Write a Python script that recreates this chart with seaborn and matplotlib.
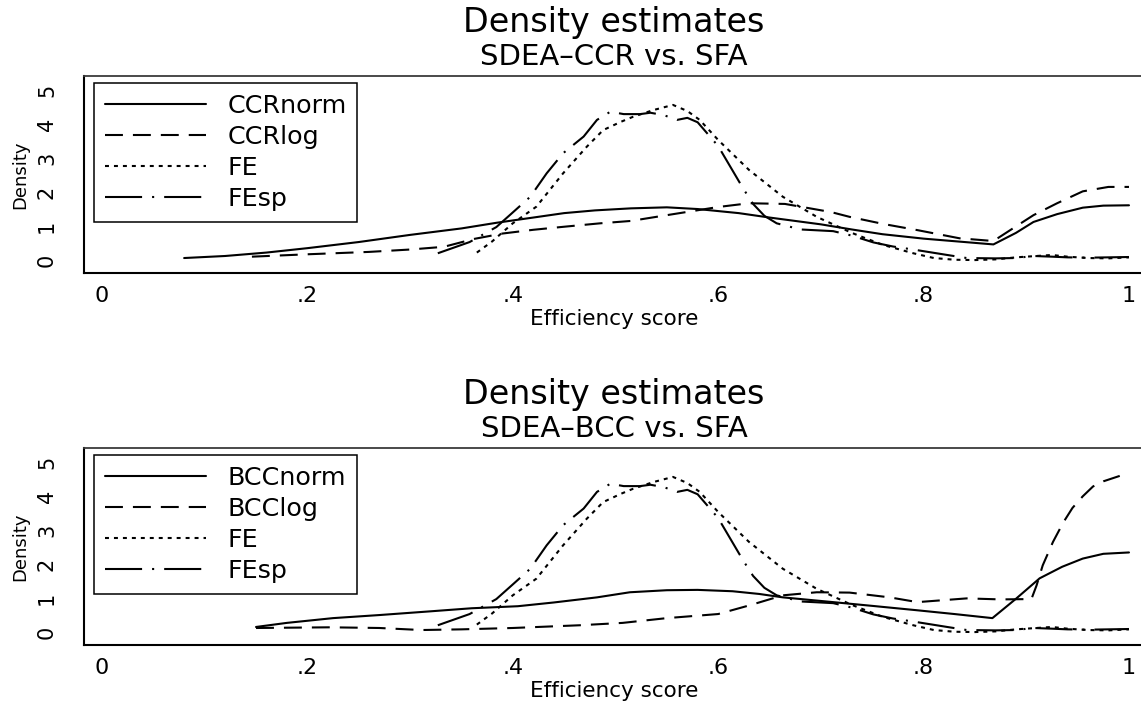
import matplotlib
matplotlib.use("Agg")
import matplotlib.pyplot as plt
import seaborn as sns

# ---- kernel density estimates of efficiency scores (read at selected scores) ----
# SDEA-CCR, normal noise
ccrnorm_x = [0.08, 0.12, 0.16, 0.20, 0.25, 0.30, 0.35, 0.385, 0.42, 0.45, 0.48, 0.515, 0.55, 0.58,
             0.62, 0.65, 0.70, 0.73, 0.76, 0.80, 0.84, 0.868, 0.89, 0.907, 0.93, 0.955, 0.975, 1.0]
ccrnorm_y = [0.06, 0.12, 0.22, 0.35, 0.53, 0.74, 0.93, 1.10, 1.25, 1.38, 1.46, 1.52, 1.55, 1.50,
             1.38, 1.25, 1.05, 0.90, 0.76, 0.63, 0.53, 0.46, 0.80, 1.12, 1.35, 1.54, 1.60, 1.61]

# SDEA-CCR, logistic noise
ccrlog_x = [0.146, 0.20, 0.26, 0.30, 0.333, 0.362, 0.39, 0.42, 0.45, 0.485, 0.515, 0.55, 0.60, 0.63,
            0.665, 0.71, 0.728, 0.761, 0.794, 0.835, 0.868, 0.89, 0.907, 0.93, 0.955, 0.98, 1.0]
ccrlog_y = [0.10, 0.17, 0.24, 0.31, 0.39, 0.62, 0.78, 0.89, 0.98, 1.08, 1.15, 1.32, 1.56, 1.67,
            1.65, 1.41, 1.27, 1.06, 0.88, 0.64, 0.56, 0.99, 1.32, 1.67, 2.02, 2.15, 2.15]

# SFA fixed effects
fe_x = [0.365, 0.38, 0.40, 0.423, 0.449, 0.472, 0.488, 0.505, 0.517, 0.537, 0.556, 0.57, 0.582,
        0.60, 0.63, 0.663, 0.696, 0.73, 0.76, 0.79, 0.81, 0.83, 0.85, 0.87, 0.89, 0.91, 0.925,
        0.94, 0.96, 0.98, 1.0]
fe_y = [0.22, 0.55, 1.08, 1.57, 2.55, 3.33, 3.82, 4.06, 4.21, 4.41, 4.56, 4.38, 4.12,
        3.53, 2.65, 1.86, 1.27, 0.80, 0.45, 0.20, 0.06, 0.01, 0.0, 0.02, 0.08, 0.12, 0.15,
        0.10, 0.06, 0.05, 0.08]

# SFA fixed effects, spatial
fesp_x = [0.327, 0.358, 0.384, 0.40, 0.417, 0.433, 0.449, 0.469, 0.482, 0.495, 0.508, 0.524,
          0.534, 0.547, 0.56, 0.57, 0.58, 0.60, 0.624, 0.634, 0.645, 0.657, 0.68, 0.712, 0.73,
          0.751, 0.77, 0.794, 0.823, 0.842, 0.87, 0.89, 0.907, 0.925, 0.94, 0.96, 0.98, 1.0]
fesp_y = [0.20, 0.53, 0.97, 1.40, 1.86, 2.55, 3.14, 3.63, 4.12, 4.36, 4.29, 4.29,
          4.33, 4.26, 4.12, 4.18, 4.05, 3.35, 2.12, 1.65, 1.30, 1.08, 0.90, 0.85, 0.72,
          0.52, 0.40, 0.29, 0.15, 0.06, 0.05, 0.06, 0.12, 0.10, 0.08, 0.07, 0.08, 0.09]

# SDEA-BCC, normal noise
bccnorm_x = [0.15, 0.18, 0.225, 0.27, 0.32, 0.36, 0.405, 0.44, 0.482, 0.514, 0.55, 0.58, 0.614,
             0.64, 0.663, 0.712, 0.75, 0.794, 0.83, 0.867, 0.89, 0.913, 0.935, 0.955, 0.975, 1.0]
bccnorm_y = [0.15, 0.27, 0.41, 0.50, 0.61, 0.70, 0.76, 0.87, 1.02, 1.17, 1.23, 1.24, 1.20,
             1.12, 1.02, 0.88, 0.77, 0.64, 0.53, 0.41, 0.98, 1.58, 1.92, 2.16, 2.30, 2.34]

# SDEA-BCC, logistic noise
bcclog_x = [0.15, 0.222, 0.27, 0.311, 0.35, 0.40, 0.465, 0.507, 0.55, 0.60, 0.631, 0.663, 0.696,
            0.728, 0.767, 0.794, 0.842, 0.875, 0.905, 0.910, 0.916, 0.926, 0.936, 0.945, 0.955,
            0.965, 0.975, 0.991]
bcclog_y = [0.12, 0.14, 0.12, 0.06, 0.08, 0.12, 0.20, 0.27, 0.41, 0.53, 0.79, 1.08, 1.17,
            1.16, 1.02, 0.88, 0.99, 0.96, 0.97, 1.37, 1.96, 2.65, 3.22, 3.65, 3.99,
            4.28, 4.43, 4.59]

x_ticks = [0, 0.2, 0.4, 0.6, 0.8, 1.0]
x_ticklabels = ["0", ".2", ".4", ".6", ".8", "1"]
y_ticks = [0, 1, 2, 3, 4, 5]

panels = [
    ("SDEA\u2013CCR vs. SFA",
     [("CCRnorm", ccrnorm_x, ccrnorm_y), ("CCRlog", ccrlog_x, ccrlog_y),
      ("FE", fe_x, fe_y), ("FEsp", fesp_x, fesp_y)]),
    ("SDEA\u2013BCC vs. SFA",
     [("BCCnorm", bccnorm_x, bccnorm_y), ("BCClog", bcclog_x, bcclog_y),
      ("FE", fe_x, fe_y), ("FEsp", fesp_x, fesp_y)]),
]

# line patterns in the order the series are listed
styles = [
    "-",
    (0, (8.6, 4.8)),
    (0, (1.9, 2.4)),
    (0, (17.8, 4.8, 1.0, 4.8)),
]

sns.set_style("white")
plt.rcParams["font.family"] = ["DejaVu Sans"]
plt.rcParams["axes.unicode_minus"] = False
plt.rcParams["text.color"] = "black"
plt.rcParams["axes.labelcolor"] = "black"
plt.rcParams["xtick.color"] = "black"
plt.rcParams["ytick.color"] = "black"

W, H = 1141, 706
fig = plt.figure(figsize=(W / 100, H / 100), dpi=100)


def fx(px):
    return px / W


def fy(py):
    return 1 - py / H


for i, (subtitle, series) in enumerate(panels):
    off = 372 * i
    ax = fig.add_axes([fx(84), fy(273 + off), 1 - fx(84), (273 - 76) / H])
    for (label, xs, ys), ls in zip(series, styles):
        sns.lineplot(x=xs, y=ys, ax=ax, color="black", linewidth=1.5,
                     linestyle=ls, label=label, estimator=None, sort=False)
    ax.set_xlim(-0.0175, 1.0117)
    ax.set_ylim(-0.38, 5.41)
    ax.set_xticks(x_ticks)
    ax.set_xticklabels(x_ticklabels)
    ax.set_yticks(y_ticks)
    ax.set_xlabel("")
    ax.set_ylabel("")
    ax.tick_params(axis="both", direction="out", length=6.5, width=1.1,
                   color="black", labelsize=16, labelcolor="black")
    ax.tick_params(axis="x", pad=3)
    ax.tick_params(axis="y", labelrotation=90, pad=13, labelsize=15)
    for lab in ax.get_yticklabels():
        lab.set_va("center")
    ax.spines["left"].set_linewidth(1.5)
    ax.spines["bottom"].set_linewidth(1.5)
    ax.spines["left"].set_color("black")
    ax.spines["bottom"].set_color("black")
    ax.spines["top"].set_linewidth(1.3)
    ax.spines["top"].set_color("#3a3a3a")
    ax.spines["right"].set_visible(False)

    leg = ax.legend(loc="upper left", bbox_to_anchor=(0.0095, 0.9645),
                    borderaxespad=0, frameon=True, fancybox=False, shadow=False,
                    framealpha=1, edgecolor="black", fontsize=18.3,
                    handlelength=4.0, handletextpad=0.83, labelspacing=0.28,
                    borderpad=0.42)
    leg.get_frame().set_linewidth(1.1)
    for t in leg.get_texts():
        t.set_color("black")

    fig.text(fx(614), fy(32 + off), "Density estimates", ha="center",
             va="baseline", fontsize=24)
    fig.text(fx(614), fy(65 + off), subtitle, ha="center", va="baseline",
             fontsize=21)
    fig.text(fx(614), fy(325 + off), "Efficiency score", ha="center",
             va="baseline", fontsize=15.5)
    fig.text(fx(20), fy(174.5 + off), "Density", ha="center", va="center",
             rotation=90, fontsize=13)

fig.savefig("out.png", dpi=100, facecolor="white")
